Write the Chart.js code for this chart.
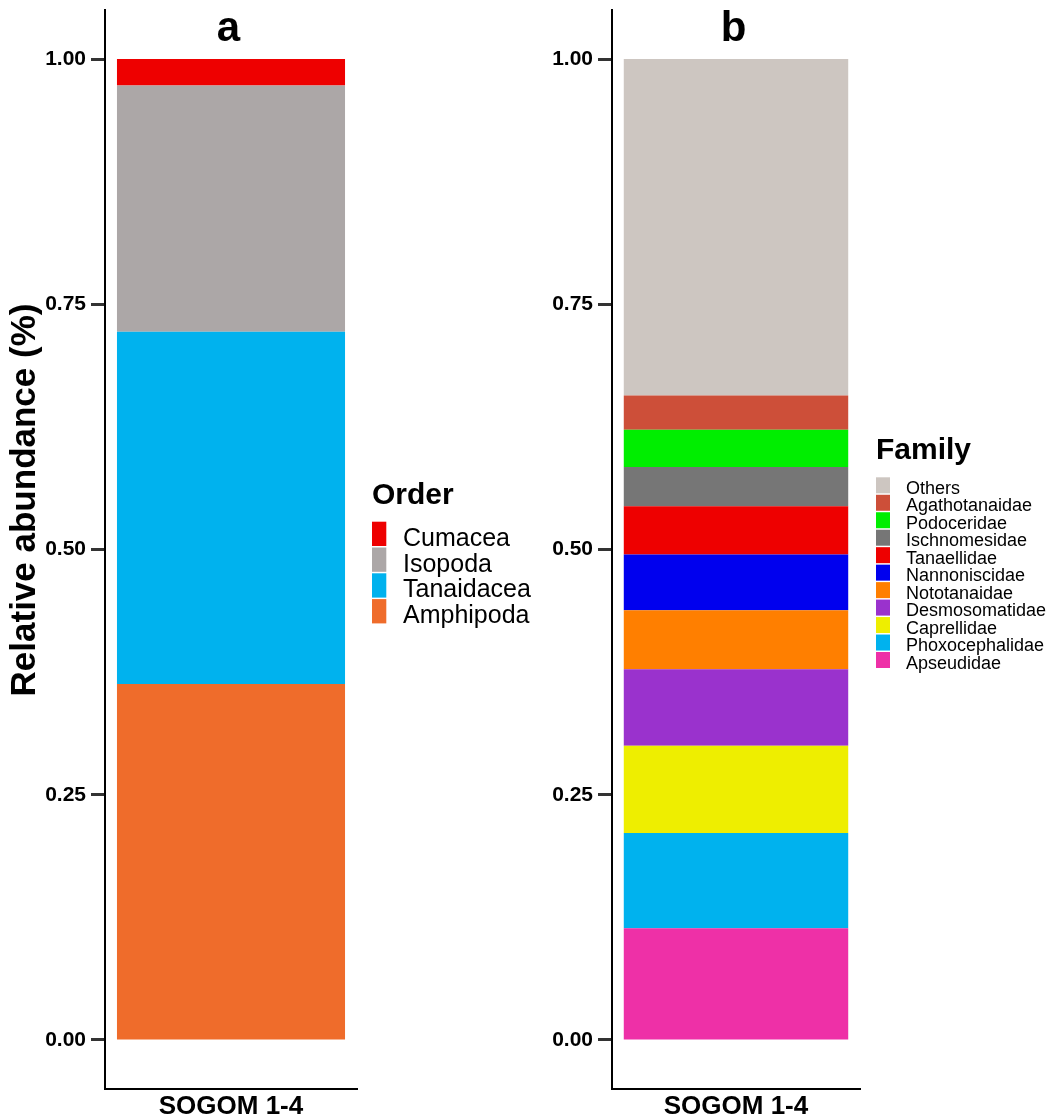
<!DOCTYPE html>
<html>
<head>
<meta charset="utf-8">
<script src="https://cdn.jsdelivr.net/npm/chart.js@4.4.1/dist/chart.umd.min.js"></script>
<style>
  html, body { margin: 0; padding: 0; background: #ffffff; }
  #wrap { position: relative; width: 1050px; height: 1116px; background: #ffffff; }
  #wrap canvas { position: absolute; left: 0; top: 0; }
  #familyChart { pointer-events: none; }
</style>
</head>
<body>
<div id="wrap">
  <canvas id="orderChart" width="1050" height="1116"></canvas>
  <canvas id="familyChart" width="1050" height="1116"></canvas>
</div>
<script>
const FONT = "'Liberation Sans', Arial, Helvetica, sans-serif";

const sampleLabels = ['SOGOM 1-4'];
const yTicks = [0, 0.25, 0.5, 0.75, 1];
const yTickLabels = ['0.00', '0.25', '0.50', '0.75', '1.00'];

// Order composition, bottom of the stack first
const orderNames  = ['Amphipoda', 'Tanaidacea', 'Isopoda', 'Cumacea'];
const orderShare  = [0.363, 0.359, 0.251, 0.027];
const orderColors = ['#EF6C2B', '#00B2EE', '#ACA7A7', '#EE0000'];

// Family composition, bottom of the stack first
const familyNames = ['Apseudidae', 'Phoxocephalidae', 'Caprellidae', 'Desmosomatidae',
  'Nototanaidae', 'Nannoniscidae', 'Tanaellidae', 'Ischnomesidae', 'Podoceridae',
  'Agathotanaidae', 'Others'];
const familyShare = [0.114, 0.097, 0.089, 0.078, 0.060, 0.057, 0.049, 0.040, 0.038, 0.035, 0.343];
const familyColors = ['#EE30A7', '#00B2EE', '#EEEE00', '#9A32CD', '#FF7F00', '#0000EE',
  '#EE0000', '#767676', '#00EE00', '#CD4F39', '#CDC6C1'];

// Key drawn beside the panel: title, then one swatch per stack segment (top segment first)
const keyLegend = {
  id: 'keyLegend',
  afterDraw(chart, args, o) {
    const ctx = chart.ctx;
    const items = chart.data.datasets.slice().reverse();
    ctx.save();
    ctx.textAlign = 'left';
    ctx.textBaseline = 'alphabetic';
    ctx.fillStyle = '#000000';
    ctx.font = 'bold ' + o.titleSize + 'px ' + FONT;
    ctx.fillText(o.title, o.x, o.titleBaseline);
    ctx.font = o.labelSize + 'px ' + FONT;
    items.forEach((ds, i) => {
      const top = o.top + i * o.pitch;
      ctx.fillStyle = ds.backgroundColor;
      ctx.fillRect(o.x, top, o.boxW, o.boxH);
      ctx.fillStyle = '#000000';
      ctx.fillText(ds.label, o.textX, top + o.textDrop);
    });
    ctx.restore();
  }
};

// Panel letter above the bar and the rotated axis caption
const panelText = {
  id: 'panelText',
  afterDraw(chart, args, o) {
    const { ctx, chartArea } = chart;
    ctx.save();
    ctx.fillStyle = '#000000';
    ctx.textAlign = 'center';
    ctx.textBaseline = 'alphabetic';
    ctx.font = 'bold ' + o.tagSize + 'px ' + FONT;
    ctx.fillText(o.tag, (chartArea.left + chartArea.right) / 2 + o.tagDx, o.tagBaseline);
    if (o.caption) {
      ctx.font = 'bold ' + o.captionSize + 'px ' + FONT;
      ctx.textBaseline = 'middle';
      ctx.translate(o.captionX, o.captionY);
      ctx.rotate(-Math.PI / 2);
      ctx.fillText(o.caption, 0, 0);
    }
    ctx.restore();
  }
};

function stackChart(id, names, shares, colors, cfg) {
  return new Chart(document.getElementById(id), {
    type: 'bar',
    data: {
      labels: sampleLabels,
      datasets: names.map((n, i) => ({
        label: n,
        data: [shares[i]],
        backgroundColor: colors[i],
        borderWidth: 0,
        barPercentage: 0.905,
        categoryPercentage: 1
      }))
    },
    options: {
      responsive: false,
      animation: false,
      devicePixelRatio: 1,
      layout: { padding: cfg.padding },
      scales: {
        x: {
          stacked: true,
          grid: { display: false, drawTicks: false },
          border: { display: true, color: '#000000', width: 2 },
          ticks: { color: '#000000', padding: 2, font: { family: FONT, size: 26, weight: 'bold' } },
          afterFit: s => { s.height = 27; s.paddingLeft = 0; s.paddingRight = 0; }
        },
        y: {
          stacked: true,
          min: -0.05,
          max: 1.05,
          afterBuildTicks: s => { s.ticks = yTicks.map(v => ({ value: v })); },
          ticks: {
            color: '#000000',
            padding: 5,
            font: { family: FONT, size: 21, weight: 'bold' },
            callback: (v, i) => yTickLabels[i]
          },
          grid: { display: true, drawOnChartArea: false, drawTicks: true, tickLength: 14, tickWidth: 3, tickColor: '#333333' },
          border: { display: true, color: '#000000', width: 2 },
          afterFit: s => { s.width = cfg.yWidth; s.paddingTop = 0; s.paddingBottom = 0; }
        }
      },
      plugins: {
        legend: { display: false },
        tooltip: { enabled: false },
        keyLegend: cfg.key,
        panelText: cfg.text
      }
    },
    plugins: [keyLegend, panelText]
  });
}

stackChart('orderChart', orderNames, orderShare, orderColors, {
  padding: { left: 0, top: 10, right: 693, bottom: 0 },
  yWidth: 105,
  key: { title: 'Order', titleSize: 30, x: 372, titleBaseline: 504, top: 521.7, pitch: 25.8,
         boxW: 14.3, boxH: 24.3, labelSize: 25, textX: 403, textDrop: 24 },
  text: { tag: 'a', tagSize: 42, tagBaseline: 41, tagDx: -2.5,
          caption: 'Relative abundance (%)', captionSize: 35, captionX: 25, captionY: 500 }
});

stackChart('familyChart', familyNames, familyShare, familyColors, {
  padding: { left: 540, top: 10, right: 190, bottom: 0 },
  yWidth: 72,
  key: { title: 'Family', titleSize: 30, x: 876, titleBaseline: 459, top: 477.3, pitch: 17.47,
         boxW: 14, boxH: 16, labelSize: 18, textX: 906, textDrop: 16.7 },
  text: { tag: 'b', tagSize: 42, tagBaseline: 41, tagDx: -2.5 }
});
</script>
</body>
</html>
